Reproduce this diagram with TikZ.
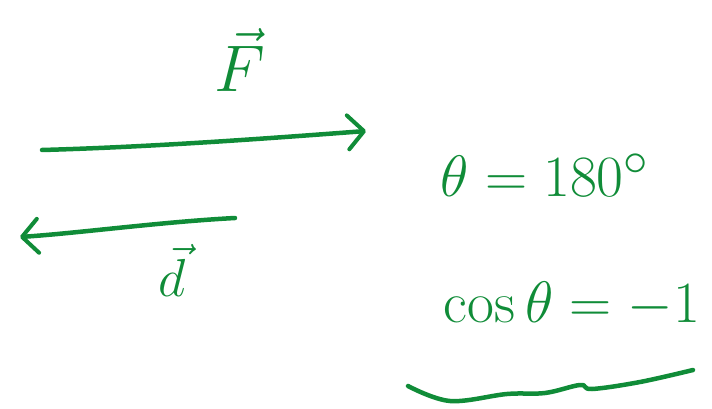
\documentclass[tikz,border=0pt]{standalone}
\usepackage{amsmath, amssymb}
\usetikzlibrary{arrows.meta}

\begin{document}
\begin{tikzpicture}[x=1pt, y=-1pt,
    pen/.style={draw=ink, line width=4.5pt, line cap=round, line join=round},
    vecarrow/.style={pen, -{Straight Barb[length=16pt, width=34pt, line width=4pt, round]}},
    script/.style={text=ink, inner sep=0pt, font=\Huge}]
  \definecolor{ink}{RGB}{16,140,56}
  \useasboundingbox (0,0) rectangle (712,409);
  % force and displacement
  \coordinate (ftail) at (42,150);
  \coordinate (fhead) at (366,131);
  \coordinate (dtail) at (235,218);
  \coordinate (dhead) at (20,237);
  \draw[vecarrow] (ftail) .. controls (150,147) and (260,139) .. (fhead);
  \draw[vecarrow] (dtail) .. controls (160,222) and (80,233) .. (dhead);
  \node[script, scale=2.65] (forcelbl) at (240,60) {$\vec{F}$};
  \node[script, scale=2.15] (displbl) at (172,270) {$\vec{d}$};
  % angle and cosine
  \node[script, scale=2.35] (anglelbl) at (545,175) {$\theta=180^\circ$};
  \node[script, scale=2.35] (coslbl) at (572,305) {$\cos\theta=-1$};
  \draw[pen] plot[smooth, tension=0.6] coordinates {(408,386) (450,401) (507,394) (545,393) (580,385) (592,389) (640,382) (693,370)};
\end{tikzpicture}
\end{document}
